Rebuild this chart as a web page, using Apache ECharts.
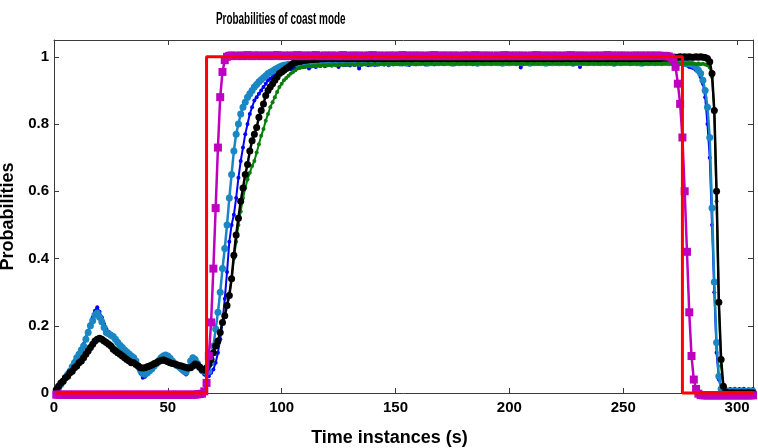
<!DOCTYPE html>
<html>
<head>
<meta charset="utf-8">
<script src="https://cdn.jsdelivr.net/npm/echarts@6/dist/echarts.min.js"></script>
<style>
  html, body { margin: 0; padding: 0; background: #fff; }
  #chart { width: 758px; height: 448px; }
</style>
</head>
<body>
<div id="chart"></div>
<script>
// time instances start at 1 s, one sample per second
const t0 = 1;
const xTicks = [0, 50, 100, 150, 200, 250, 300];
const yTicks = [0, 0.2, 0.4, 0.6, 0.8, 1];

// red reference (step, no markers)
const redTimes = [1, 66, 67, 275, 276, 307];
const redValues = [0, 0, 1, 1, 0, 0];

const magentaValues = [
  -0.005, -0.005, -0.005, -0.005, -0.005, -0.005, -0.005, -0.005, -0.005, -0.005,
  -0.005, -0.005, -0.005, -0.005, -0.005, -0.005, -0.005, -0.005, -0.005, -0.005,
  -0.005, -0.005, -0.005, -0.005, -0.005, -0.005, -0.005, -0.005, -0.005, -0.005,
  -0.005, -0.005, -0.005, -0.005, -0.005, -0.005, -0.005, -0.005, -0.005, -0.005,
  -0.005, -0.005, -0.005, -0.005, -0.005, -0.005, -0.005, -0.005, -0.005, -0.005,
  -0.005, -0.005, -0.005, -0.005, -0.005, -0.005, -0.005, -0.005, -0.005, -0.005,
  -0.005, -0.005, -0.004, -0.003, -0.002, 0.005, 0.03, 0.11, 0.21, 0.37,
  0.55, 0.73, 0.88, 0.955, 0.99, 1.0, 1.003, 1.004, 1.003, 1.002,
  1.003, 1.004, 1.002, 1.003, 1.005, 1.003, 1.002, 1.004, 1.003, 1.004,
  1.002, 1.003, 1.004, 1.003, 1.002, 1.004, 1.003, 1.005, 1.003, 1.002,
  1.004, 1.003, 1.002, 1.004, 1.003, 1.003, 1.005, 1.002, 1.003, 1.004,
  1.003, 1.002, 1.004, 1.003, 1.005, 1.003, 1.002, 1.003, 1.004, 1.003,
  1.002, 1.004, 1.003, 1.003, 1.002, 1.004, 1.005, 1.003, 1.002, 1.003,
  1.004, 1.003, 1.002, 1.004, 1.003, 1.002, 1.003, 1.004, 1.003, 1.005,
  1.003, 1.002, 1.004, 1.003, 1.002, 1.003, 1.004, 1.002, 1.003, 1.004,
  1.002, 1.003, 1.005, 1.003, 1.004, 1.002, 1.003, 1.004, 1.003, 1.002,
  1.004, 1.003, 1.002, 1.003, 1.004, 1.003, 1.005, 1.002, 1.003, 1.004,
  1.003, 1.002, 1.004, 1.003, 1.002, 1.004, 1.003, 1.003, 1.002, 1.004,
  1.003, 1.004, 1.002, 1.003, 1.005, 1.003, 1.002, 1.004, 1.003, 1.002,
  1.004, 1.003, 1.002, 1.003, 1.004, 1.002, 1.003, 1.005, 1.003, 1.004,
  1.002, 1.003, 1.004, 1.003, 1.002, 1.004, 1.003, 1.002, 1.003, 1.004,
  1.003, 1.005, 1.002, 1.003, 1.004, 1.003, 1.002, 1.004, 1.003, 1.002,
  1.004, 1.003, 1.002, 1.003, 1.004, 1.003, 1.005, 1.002, 1.003, 1.004,
  1.003, 1.002, 1.004, 1.003, 1.002, 1.003, 1.004, 1.002, 1.003, 1.004,
  1.002, 1.003, 1.005, 1.003, 1.004, 1.002, 1.003, 1.004, 1.003, 1.002,
  1.004, 1.003, 1.002, 1.003, 1.004, 1.003, 1.002, 1.004, 1.003, 1.003,
  1.003, 1.004, 1.002, 1.003, 1.004, 1.003, 1.002, 1.003, 1.002, 1.001,
  0.998, 0.99, 0.97, 0.92, 0.86, 0.76, 0.6, 0.42, 0.24, 0.11,
  0.04, 0.012, -0.002, -0.006, -0.007, -0.007, -0.007, -0.007, -0.007, -0.007,
  -0.007, -0.007, -0.007, -0.007, -0.007, -0.007, -0.007, -0.007, -0.007, -0.007,
  -0.007, -0.007, -0.007, -0.007, -0.007, -0.007, -0.007
];

const blueValues = [
  0.0, 0.015, 0.028, 0.04, 0.05, 0.06, 0.07, 0.082, 0.095, 0.108,
  0.12, 0.132, 0.146, 0.165, 0.185, 0.205, 0.225, 0.245, 0.255, 0.242,
  0.225, 0.205, 0.19, 0.182, 0.176, 0.17, 0.163, 0.155, 0.146, 0.138,
  0.13, 0.124, 0.116, 0.108, 0.1, 0.088, 0.072, 0.058, 0.045, 0.048,
  0.055, 0.062, 0.07, 0.078, 0.088, 0.098, 0.108, 0.114, 0.116, 0.112,
  0.104, 0.094, 0.085, 0.078, 0.072, 0.066, 0.06, 0.055, 0.07, 0.095,
  0.108, 0.103, 0.09, 0.075, 0.062, 0.055, 0.05, 0.05, 0.06, 0.07,
  0.09, 0.12, 0.16, 0.21, 0.28, 0.36, 0.45, 0.5, 0.53, 0.58,
  0.64, 0.69, 0.73, 0.77, 0.8, 0.83, 0.85, 0.87, 0.88, 0.89,
  0.9, 0.91, 0.92, 0.93, 0.935, 0.94, 0.945, 0.95, 0.955, 0.958,
  0.96, 0.962, 0.965, 0.963, 0.967, 0.966, 0.97, 0.968, 0.971, 0.97,
  0.972, 0.965, 0.973, 0.974, 0.97, 0.975, 0.973, 0.976, 0.972, 0.975,
  0.977, 0.974, 0.978, 0.975, 0.97, 0.977, 0.979, 0.976, 0.978, 0.974,
  0.978, 0.976, 0.979, 0.965, 0.977, 0.98, 0.978, 0.975, 0.979, 0.977,
  0.976, 0.98, 0.978, 0.981, 0.977, 0.979, 0.975, 0.98, 0.978, 0.982,
  0.979, 0.977, 0.981, 0.978, 0.98, 0.976, 0.981, 0.979, 0.982, 0.978,
  0.98, 0.982, 0.977, 0.981, 0.979, 0.983, 0.98, 0.978, 0.982, 0.98,
  0.981, 0.979, 0.983, 0.98, 0.982, 0.978, 0.981, 0.983, 0.98, 0.982,
  0.979, 0.982, 0.98, 0.983, 0.981, 0.978, 0.982, 0.98, 0.984, 0.981,
  0.982, 0.979, 0.983, 0.981, 0.98, 0.984, 0.982, 0.979, 0.983, 0.981,
  0.982, 0.98, 0.983, 0.981, 0.968, 0.982, 0.98, 0.983, 0.981, 0.979,
  0.982, 0.98, 0.983, 0.981, 0.979, 0.982, 0.98, 0.983, 0.981, 0.982,
  0.98, 0.983, 0.981, 0.979, 0.982, 0.98, 0.983, 0.981, 0.98, 0.982,
  0.97, 0.981, 0.983, 0.98, 0.982, 0.979, 0.983, 0.981, 0.98, 0.982,
  0.981, 0.983, 0.979, 0.982, 0.98, 0.983, 0.981, 0.979, 0.982, 0.98,
  0.983, 0.981, 0.98, 0.982, 0.979, 0.983, 0.981, 0.98, 0.982, 0.98,
  0.981, 0.983, 0.98, 0.982, 0.979, 0.981, 0.983, 0.98, 0.982, 0.981,
  0.98, 0.982, 0.979, 0.981, 0.98, 0.978, 0.976, 0.974, 0.97, 0.968,
  0.965, 0.96, 0.955, 0.94, 0.92, 0.88, 0.8, 0.7, 0.5, 0.3,
  0.12, 0.04, 0.015, 0.01, 0.012, 0.008, 0.012, 0.01, 0.013, 0.009,
  0.012, 0.01, 0.013, 0.009, 0.011, 0.01, 0.012
];

const lightBlueValues = [
  0.0, 0.015, 0.025, 0.035, 0.045, 0.055, 0.065, 0.078, 0.09, 0.105,
  0.115, 0.128, 0.14, 0.16, 0.18, 0.2, 0.215, 0.232, 0.238, 0.225,
  0.212, 0.195, 0.18, 0.176, 0.172, 0.168, 0.16, 0.15, 0.142, 0.135,
  0.128, 0.122, 0.116, 0.11, 0.105, 0.095, 0.08, 0.068, 0.058, 0.056,
  0.06, 0.066, 0.072, 0.08, 0.088, 0.097, 0.105, 0.11, 0.113, 0.11,
  0.103, 0.095, 0.088, 0.082, 0.078, 0.072, 0.066, 0.062, 0.075, 0.095,
  0.105, 0.1, 0.088, 0.076, 0.068, 0.065, 0.062, 0.065, 0.09, 0.14,
  0.19, 0.24, 0.3, 0.37, 0.43, 0.5, 0.58, 0.65, 0.72, 0.77,
  0.8, 0.83, 0.85, 0.865, 0.88, 0.89, 0.9, 0.91, 0.918, 0.926,
  0.932, 0.938, 0.944, 0.95, 0.954, 0.958, 0.962, 0.966, 0.97, 0.973,
  0.975, 0.976, 0.978, 0.977, 0.979, 0.98, 0.979, 0.981, 0.98, 0.982,
  0.981, 0.983, 0.98, 0.982, 0.984, 0.981, 0.983, 0.982, 0.984, 0.981,
  0.983, 0.982, 0.984, 0.981, 0.983, 0.984, 0.982, 0.983, 0.981, 0.984,
  0.982, 0.984, 0.983, 0.981, 0.984, 0.982, 0.983, 0.984, 0.982, 0.983,
  0.984, 0.981, 0.983, 0.982, 0.984, 0.983, 0.981, 0.984, 0.983, 0.982,
  0.983, 0.984, 0.982, 0.983, 0.981, 0.984, 0.983, 0.982, 0.984, 0.983,
  0.982, 0.983, 0.984, 0.981, 0.983, 0.982, 0.984, 0.983, 0.982, 0.984,
  0.983, 0.982, 0.984, 0.983, 0.981, 0.983, 0.984, 0.982, 0.983, 0.984,
  0.982, 0.984, 0.983, 0.982, 0.984, 0.981, 0.983, 0.984, 0.982, 0.983,
  0.984, 0.982, 0.983, 0.984, 0.982, 0.983, 0.981, 0.984, 0.983, 0.982,
  0.983, 0.984, 0.982, 0.983, 0.984, 0.982, 0.983, 0.984, 0.981, 0.983,
  0.982, 0.983, 0.984, 0.982, 0.983, 0.981, 0.984, 0.983, 0.982, 0.984,
  0.983, 0.982, 0.984, 0.983, 0.982, 0.984, 0.983, 0.981, 0.983, 0.984,
  0.982, 0.983, 0.984, 0.982, 0.983, 0.984, 0.982, 0.983, 0.984, 0.982,
  0.984, 0.983, 0.982, 0.984, 0.983, 0.981, 0.983, 0.984, 0.982, 0.983,
  0.983, 0.984, 0.982, 0.983, 0.984, 0.982, 0.983, 0.981, 0.984, 0.983,
  0.982, 0.984, 0.983, 0.982, 0.983, 0.984, 0.982, 0.983, 0.984, 0.982,
  0.983, 0.982, 0.984, 0.981, 0.983, 0.982, 0.98, 0.981, 0.979, 0.978,
  0.975, 0.97, 0.96, 0.95, 0.93, 0.9, 0.85, 0.76, 0.55, 0.33,
  0.15, 0.05, 0.012, 0.006, 0.005, 0.006, 0.004, 0.005, 0.006, 0.005,
  0.004, 0.006, 0.005, 0.004, 0.006, 0.005, 0.005
];

const greenValues = [
  0.01, 0.02, 0.03, 0.037, 0.047, 0.053, 0.063, 0.07, 0.079, 0.085,
  0.094, 0.1, 0.11, 0.12, 0.13, 0.14, 0.15, 0.158, 0.163, 0.166,
  0.163, 0.158, 0.154, 0.15, 0.146, 0.138, 0.133, 0.128, 0.122, 0.117,
  0.112, 0.106, 0.1, 0.095, 0.093, 0.088, 0.083, 0.078, 0.076, 0.078,
  0.082, 0.085, 0.088, 0.092, 0.095, 0.099, 0.102, 0.103, 0.1, 0.097,
  0.094, 0.091, 0.089, 0.087, 0.085, 0.082, 0.08, 0.078, 0.077, 0.079,
  0.085, 0.09, 0.087, 0.08, 0.073, 0.07, 0.075, 0.085, 0.1, 0.12,
  0.14, 0.155, 0.18, 0.21, 0.235, 0.265, 0.295, 0.34, 0.4, 0.45,
  0.5, 0.54, 0.58, 0.61, 0.635, 0.655, 0.675, 0.69, 0.715, 0.74,
  0.765, 0.785, 0.81, 0.83, 0.85, 0.865, 0.88, 0.895, 0.91, 0.92,
  0.93, 0.937, 0.944, 0.95, 0.955, 0.96, 0.965, 0.967, 0.969, 0.97,
  0.971, 0.972, 0.971, 0.973, 0.972, 0.974, 0.973, 0.975, 0.974, 0.975,
  0.976, 0.974, 0.977, 0.975, 0.976, 0.977, 0.975, 0.978, 0.976, 0.977,
  0.978, 0.976, 0.977, 0.979, 0.976, 0.978, 0.977, 0.979, 0.976, 0.978,
  0.979, 0.977, 0.978, 0.98, 0.977, 0.979, 0.978, 0.98, 0.977, 0.979,
  0.978, 0.98, 0.977, 0.979, 0.981, 0.978, 0.98, 0.979, 0.977, 0.98,
  0.979, 0.981, 0.978, 0.98, 0.979, 0.981, 0.977, 0.98, 0.979, 0.981,
  0.978, 0.98, 0.981, 0.979, 0.98, 0.978, 0.981, 0.979, 0.98, 0.982,
  0.979, 0.981, 0.98, 0.978, 0.981, 0.979, 0.982, 0.98, 0.979, 0.981,
  0.98, 0.979, 0.982, 0.98, 0.981, 0.979, 0.98, 0.982, 0.979, 0.981,
  0.98, 0.982, 0.979, 0.981, 0.98, 0.978, 0.981, 0.98, 0.982, 0.979,
  0.981, 0.98, 0.979, 0.982, 0.98, 0.981, 0.979, 0.98, 0.982, 0.98,
  0.979, 0.981, 0.98, 0.982, 0.979, 0.981, 0.98, 0.978, 0.981, 0.98,
  0.982, 0.979, 0.981, 0.98, 0.979, 0.982, 0.98, 0.981, 0.979, 0.98,
  0.981, 0.979, 0.982, 0.98, 0.981, 0.978, 0.98, 0.982, 0.979, 0.981,
  0.98, 0.981, 0.979, 0.98, 0.982, 0.979, 0.981, 0.98, 0.978, 0.981,
  0.979, 0.98, 0.982, 0.979, 0.981, 0.98, 0.979, 0.981, 0.98, 0.982,
  0.98, 0.979, 0.981, 0.98, 0.979, 0.981, 0.98, 0.979, 0.981, 0.98,
  0.979, 0.978, 0.98, 0.978, 0.979, 0.977, 0.975, 0.968, 0.94, 0.84,
  0.57, 0.27, 0.08, 0.012, 0.002, 0.0, 0.0, 0.0, 0.0, 0.0,
  0.0, 0.0, 0.0, 0.0, 0.0, 0.0, 0.0
];

const blackValues = [
  0.01, 0.02, 0.03, 0.035, 0.045, 0.05, 0.06, 0.065, 0.075, 0.08,
  0.09, 0.095, 0.105, 0.115, 0.125, 0.135, 0.145, 0.155, 0.16, 0.163,
  0.16, 0.155, 0.15, 0.145, 0.14, 0.13, 0.125, 0.12, 0.115, 0.11,
  0.105, 0.1, 0.095, 0.09, 0.09, 0.085, 0.08, 0.075, 0.074, 0.075,
  0.078, 0.08, 0.083, 0.087, 0.09, 0.094, 0.097, 0.098, 0.096, 0.093,
  0.09, 0.088, 0.086, 0.084, 0.082, 0.08, 0.078, 0.076, 0.074, 0.075,
  0.08, 0.086, 0.083, 0.077, 0.07, 0.068, 0.075, 0.085, 0.1, 0.12,
  0.14, 0.155, 0.18, 0.21, 0.23, 0.26, 0.29, 0.34, 0.41, 0.47,
  0.52, 0.57, 0.61, 0.65, 0.68, 0.72, 0.75, 0.77, 0.79, 0.82,
  0.84, 0.86, 0.885, 0.9, 0.91, 0.92, 0.93, 0.94, 0.95, 0.955,
  0.96, 0.965, 0.97, 0.975, 0.98, 0.983, 0.985, 0.986, 0.988, 0.99,
  0.99, 0.991, 0.992, 0.992, 0.993, 0.993, 0.994, 0.994, 0.994, 0.995,
  0.995, 0.994, 0.996, 0.995, 0.994, 0.996, 0.995, 0.996, 0.994, 0.995,
  0.996, 0.995, 0.994, 0.996, 0.995, 0.996, 0.995, 0.994, 0.996, 0.995,
  0.994, 0.996, 0.995, 0.996, 0.994, 0.995, 0.996, 0.995, 0.994, 0.996,
  0.995, 0.996, 0.994, 0.995, 0.996, 0.995, 0.994, 0.996, 0.995, 0.996,
  0.995, 0.994, 0.996, 0.995, 0.996, 0.994, 0.995, 0.996, 0.995, 0.994,
  0.996, 0.995, 0.994, 0.996, 0.995, 0.996, 0.994, 0.995, 0.996, 0.995,
  0.994, 0.996, 0.995, 0.994, 0.996, 0.995, 0.996, 0.994, 0.995, 0.996,
  0.995, 0.994, 0.996, 0.995, 0.996, 0.995, 0.994, 0.996, 0.995, 0.994,
  0.996, 0.995, 0.996, 0.994, 0.995, 0.996, 0.995, 0.994, 0.996, 0.995,
  0.994, 0.996, 0.995, 0.996, 0.994, 0.995, 0.996, 0.995, 0.994, 0.996,
  0.995, 0.996, 0.994, 0.995, 0.996, 0.995, 0.994, 0.996, 0.995, 0.996,
  0.994, 0.995, 0.996, 0.995, 0.994, 0.996, 0.995, 0.996, 0.994, 0.995,
  0.996, 0.995, 0.994, 0.996, 0.995, 0.996, 0.994, 0.995, 0.996, 0.995,
  0.995, 0.996, 0.994, 0.995, 0.996, 0.995, 0.996, 0.994, 0.995, 0.996,
  0.995, 0.994, 0.996, 0.995, 0.996, 0.995, 0.996, 0.997, 0.996, 0.997,
  0.997, 0.998, 0.999, 0.999, 1.0, 0.999, 1.0, 0.999, 1.0, 0.999,
  0.999, 1.0, 0.999, 1.0, 0.999, 0.998, 0.995, 0.985, 0.95, 0.84,
  0.6, 0.27, 0.1, 0.02, 0.003, 0.0, 0.0, 0.001, 0.0, 0.0,
  0.0, 0.001, 0.0, 0.0, 0.001, 0.0, 0.0
];

const FONT = "'Liberation Sans', Arial, sans-serif";

const toPoints = vals => vals.map((v, i) => [t0 + i, v]);

const markedLine = (vals, color, symbol, size, width, z) => ({
  type: "line",
  data: toPoints(vals),
  symbol: symbol,
  symbolSize: size,
  showSymbol: true,
  showAllSymbol: true,
  clip: false,
  z: z,
  lineStyle: { color: color, width: width },
  itemStyle: { color: color, borderWidth: 0 },
  emphasis: { disabled: true }
});

const axisLineStyle = { show: true, onZero: false, lineStyle: { color: "#3a3a3a", width: 1 } };
const tickStyle = { show: true, inside: true, length: 5, lineStyle: { color: "#3a3a3a" } };
const labelStyle = { color: "#000", fontFamily: FONT, fontWeight: "bold", fontSize: 15 };

const chart = echarts.init(document.getElementById("chart"), null, { renderer: "canvas" });

const option = {
  animation: false,
  backgroundColor: "#fff",
  // title drawn as a condensed text element (the original font is narrow)
  graphic: [
    {
      type: "text",
      left: 216,
      top: 12,
      scaleX: 0.62,
      style: {
        text: "Probabilities of coast mode",
        fill: "#000",
        font: "bold 16px 'Liberation Sans', Arial, sans-serif"
      }
    }
  ],
  grid: { left: 54, right: 5, top: 40, bottom: 55, outerBoundsMode: "none", containLabel: false },
  xAxis: [
    {
      type: "value",
      min: 0,
      max: 307,
      interval: 50,
      position: "bottom",
      axisLine: axisLineStyle,
      axisTick: tickStyle,
      splitLine: { show: false },
      axisLabel: Object.assign({ margin: 7, showMaxLabel: false,
        formatter: v => (xTicks.indexOf(v) >= 0 ? String(v) : "") }, labelStyle),
      name: "Time instances (s)",
      nameLocation: "middle",
      nameGap: 36,
      nameTextStyle: { color: "#000", fontFamily: FONT, fontWeight: "bold", fontSize: 18, padding: [0, 28, 0, 0] }
    },
    {
      type: "value",
      min: 0,
      max: 307,
      interval: 50,
      position: "top",
      axisLine: axisLineStyle,
      axisTick: tickStyle,
      splitLine: { show: false },
      axisLabel: { show: false }
    }
  ],
  yAxis: [
    {
      type: "value",
      min: 0,
      max: 1.05,
      interval: 0.2,
      position: "left",
      axisLine: axisLineStyle,
      axisTick: tickStyle,
      splitLine: { show: false },
      axisLabel: Object.assign({ margin: 5, showMaxLabel: false,
        formatter: v => (yTicks.some(t => Math.abs(t - v) < 1e-9) ? String(+v.toFixed(1)) : "") }, labelStyle),
      name: "Probabilities",
      nameLocation: "middle",
      nameGap: 26,
      nameRotate: 90,
      nameTextStyle: { color: "#000", fontFamily: FONT, fontWeight: "bold", fontSize: 18 }
    },
    {
      type: "value",
      min: 0,
      max: 1.05,
      interval: 0.2,
      position: "right",
      axisLine: axisLineStyle,
      axisTick: tickStyle,
      splitLine: { show: false },
      axisLabel: { show: false }
    }
  ],
  series: [
    markedLine(blueValues, "#0000ff", "circle", 4, 2, 2),
    markedLine(lightBlueValues, "#1a86c4", "circle", 7, 2.5, 3),
    markedLine(greenValues, "#0a7d0a", "circle", 4, 2, 4),
    markedLine(blackValues, "#000000", "circle", 7, 2.5, 5),
    markedLine(magentaValues, "#bf00bf", "rect", 8, 2.5, 6),
    {
      type: "line",
      data: redTimes.map((t, i) => [t, redValues[i]]),
      step: "end",
      showSymbol: false,
      symbol: "none",
      clip: false,
      z: 7,
      lineStyle: { color: "#ff0000", width: 3 },
      emphasis: { disabled: true }
    }
  ]
};

chart.setOption(option);
</script>
</body>
</html>
